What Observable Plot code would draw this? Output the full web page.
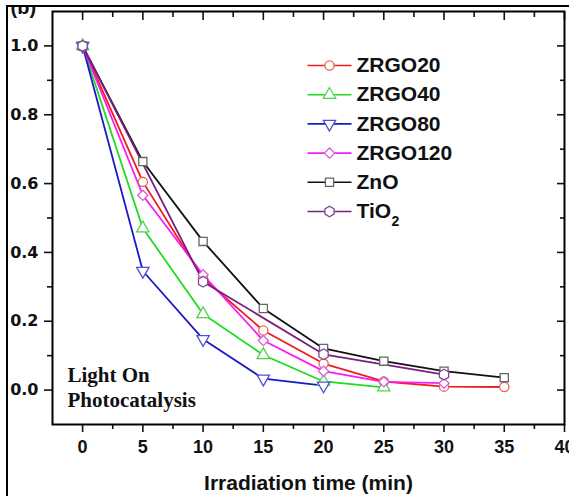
<!DOCTYPE html>
<html><head><meta charset="utf-8">
<script src="https://cdn.jsdelivr.net/npm/d3@7"></script>
<script src="https://cdn.jsdelivr.net/npm/@observablehq/plot@0.6"></script>
<style>
html,body{margin:0;padding:0;background:#fff;}
#wrap{position:absolute;left:6px;top:5px;width:563px;height:491px;border-left:2px solid #000;border-top:2px solid #000;overflow:hidden;box-sizing:border-box;background:#fff;}
#chart{position:absolute;left:-8px;top:-7px;}
</style></head><body><div id="wrap"><div id="chart"></div></div>
<script>
// ---- data ----
const times = [0, 5, 10, 15, 20, 25, 30, 35];
const tio2Times = [0, 10, 20, 30];
const zrgo20 = [1.0, 0.605, 0.325, 0.173, 0.077, 0.025, 0.010, 0.009];
const zrgo40 = [1.0, 0.470, 0.221, 0.102, 0.025, 0.008];
const zrgo80 = [1.0, 0.346, 0.148, 0.033, 0.013];
const zrgo120 = [1.0, 0.566, 0.335, 0.144, 0.055, 0.024, 0.020];
const zno = [1.0, 0.664, 0.432, 0.237, 0.121, 0.084, 0.055, 0.036];
const tio2 = [1.0, 0.315, 0.104, 0.045];

const seriesNames = ["ZRGO20", "ZRGO40", "ZRGO80", "ZRGO120", "ZnO", "TiO"];
const seriesSub = ["", "", "", "", "", "2"];
const xMajor = [0, 5, 10, 15, 20, 25, 30, 35, 40];
const xMinor = [2.5, 7.5, 12.5, 17.5, 22.5, 27.5, 32.5, 37.5];
const yMajor = [0.0, 0.2, 0.4, 0.6, 0.8, 1.0];
const yMinor = [0.1, 0.3, 0.5, 0.7, 0.9];
const noteText = "Light On\nPhotocatalysis";
const xTitle = "Irradiation time (min)";
const panelTag = "(b)";

// ---- styles ----
const lineColors = ["#f01c1c", "#1fdc1f", "#1a1ac8", "#f51ef5", "#111111", "#7a1f7f"];
const markColors = ["#e8645a", "#52d452", "#5050d4", "#d860d8", "#666666", "#7d4a95"];
const symbols = ["circle", "triangle", "triangle", "diamond2", "square", "hexagon"];
const rotations = [0, 0, 180, 0, 0, 0];

const valueSets = [zrgo20, zrgo40, zrgo80, zrgo120, zno, tio2];
const timeSets = [times, times, times, times, times, tio2Times];
const series = valueSets.map((vals, i) =>
  vals.map((v, j) => ({t: timeSets[i][j], v, s: seriesNames[i] + seriesSub[i]})));

const legendLine = {draw(ctx) { ctx.moveTo(-22, 0); ctx.lineTo(22, 0); }};

const marks = [];
// axes
marks.push(Plot.axisX({anchor: "bottom", ticks: xMajor, tickSize: 8, tickPadding: 8, tickFormat: d => String(d), label: null, fontSize: 18, fontWeight: "bold", strokeWidth: 1.6}));
marks.push(Plot.axisX({anchor: "bottom", ticks: xMinor, tickSize: 5, tickFormat: () => "", label: null, strokeWidth: 1.6}));
marks.push(Plot.axisX({anchor: "top", ticks: xMajor, tickSize: 8, dy: 8, tickFormat: () => "", label: null, strokeWidth: 1.6}));
marks.push(Plot.axisX({anchor: "top", ticks: xMinor, tickSize: 5, dy: 5, tickFormat: () => "", label: null, strokeWidth: 1.6}));
marks.push(Plot.axisY({anchor: "left", ticks: yMajor, tickSize: 8, tickPadding: 6, tickFormat: d3.format(".1f"), label: null, fontSize: 16, fontWeight: "bold", fontFamily: "'DejaVu Sans', sans-serif", strokeWidth: 1.6}));
marks.push(Plot.axisY({anchor: "left", ticks: yMinor, tickSize: 5, tickFormat: () => "", label: null, strokeWidth: 1.6}));
marks.push(Plot.axisY({anchor: "right", ticks: yMajor, tickSize: 8, dx: -8, tickFormat: () => "", label: null, strokeWidth: 1.6}));
marks.push(Plot.axisY({anchor: "right", ticks: yMinor, tickSize: 5, dx: -5, tickFormat: () => "", label: null, strokeWidth: 1.6}));
marks.push(Plot.frame({stroke: "#000", strokeWidth: 2}));

// lines then markers
series.forEach((rows, i) => {
  marks.push(Plot.line(rows, {x: "t", y: "v", stroke: lineColors[i], strokeWidth: 1.8}));
});
series.forEach((rows, i) => {
  marks.push(Plot.dot(rows, {x: "t", y: "v", symbol: symbols[i], rotate: rotations[i], r: 4.6, stroke: markColors[i], fill: "white", strokeWidth: 1.3}));
});

// legend
seriesNames.forEach((name, i) => {
  const dy = 54 + i * 29.2;
  marks.push(Plot.dot([name], {frameAnchor: "top-left", dx: 277, dy, symbol: legendLine, stroke: lineColors[i], fill: "none", strokeWidth: 1.6}));
  marks.push(Plot.dot([name], {frameAnchor: "top-left", dx: 277, dy, symbol: symbols[i], rotate: rotations[i], r: 4.6, stroke: markColors[i], fill: "white", strokeWidth: 1.3}));
  marks.push(Plot.text([name], {frameAnchor: "top-left", dx: 304, dy, text: d => d, textAnchor: "start", lineAnchor: "middle", fontSize: 21, fontWeight: "bold", fill: "#111"}));
  if (seriesSub[i]) {
    marks.push(Plot.text([seriesSub[i]], {frameAnchor: "top-left", dx: 339, dy: dy + 10, text: d => d, textAnchor: "start", lineAnchor: "middle", fontSize: 14, fontWeight: "bold", fill: "#111"}));
  }
});

// annotations
marks.push(Plot.text([noteText], {frameAnchor: "bottom-left", dx: 15, dy: -38, text: d => d, textAnchor: "start", lineAnchor: "middle", lineHeight: 1.2, fontSize: 21, fontWeight: "bold", fontFamily: "'Liberation Serif', 'Times New Roman', serif", fill: "#111"}));
marks.push(Plot.text([xTitle], {frameAnchor: "bottom", dy: 59, text: d => d, lineAnchor: "middle", fontSize: 21, fontWeight: "bold", fill: "#111"}));
marks.push(Plot.text([panelTag], {frameAnchor: "top-left", dx: -42, dy: 2, text: d => d, textAnchor: "start", lineAnchor: "bottom", fontSize: 20, fontWeight: "bold", fill: "#111"}));

const chart = Plot.plot({
  width: 569, height: 496,
  marginLeft: 52, marginRight: 5, marginTop: 11, marginBottom: 72,
  style: {fontFamily: "'Liberation Sans', Arial, sans-serif", fontSize: "17px", color: "#111", background: "transparent", overflow: "visible"},
  x: {domain: [-2.5, 40]},
  y: {domain: [-0.1, 1.1]},
  marks
});
document.getElementById("chart").appendChild(chart);
</script>
</body></html>
